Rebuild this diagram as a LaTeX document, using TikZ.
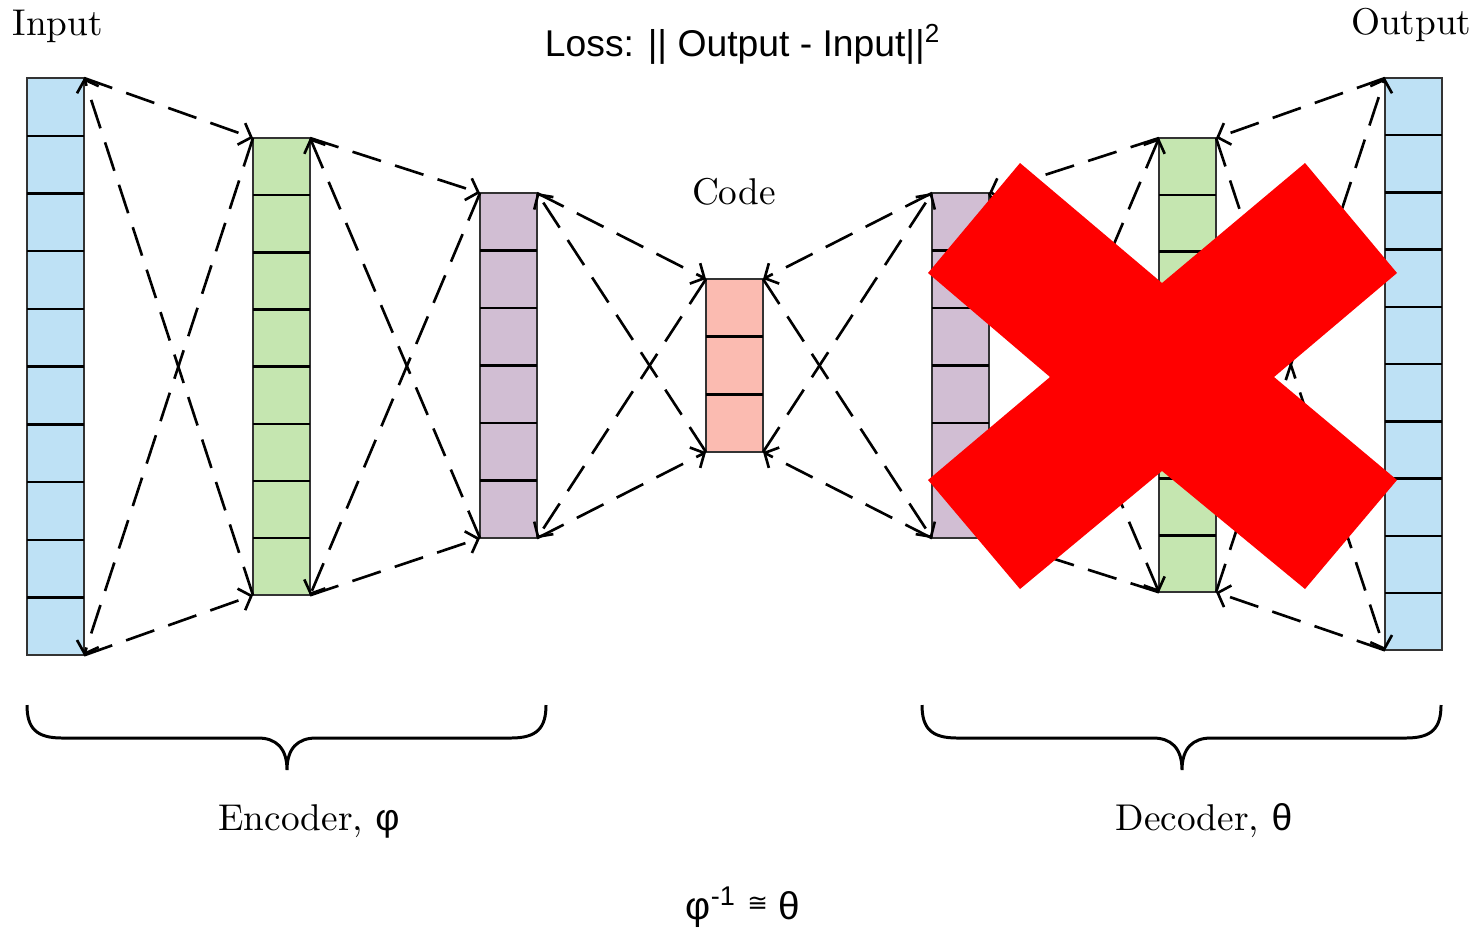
\documentclass[tikz,border=0pt]{standalone}
\usepackage{fontspec}
\newfontfamily\arial{Liberation Sans}
\newfontfamily\djv{DejaVu Sans}
\usetikzlibrary{arrows.meta,calc}

\definecolor{inblue}{RGB}{190,225,245}
\definecolor{encgreen}{RGB}{197,230,176}
\definecolor{encpurple}{RGB}{209,190,211}
\definecolor{codered}{RGB}{251,187,177}
\definecolor{xred}{RGB}{255,0,0}

% horizontal separators that split a layer node into equal cells
\newcommand\splitlayer[2]{%
  \pgfmathtruncatemacro\nlast{#2-1}%
  \foreach \k in {1,...,\nlast}{%
    \draw[cellline] ($(#1.north west)!\k/#2!(#1.south west)$) -- ($(#1.north east)!\k/#2!(#1.south east)$);}}

\begin{document}
\begin{tikzpicture}[x=0.01cm, y=-0.01cm,
  layer/.style={draw=black!80, line width=0.55pt, minimum width=0.57cm,
                inner sep=0pt, outer sep=0pt, anchor=north west},
  cellline/.style={draw=black, line width=0.7pt},
  conn/.style={line width=0.75pt, dash pattern=on 8.5pt off 4.2pt,
               -{Straight Barb[length=3pt,width=6.5pt]}},
  serif/.style={font=\fontsize{10.6}{12}\selectfont, inner sep=0pt},
  sanslbl/.style={font=\arial\fontsize{10.6}{12}\selectfont, inner sep=0pt},
  pics/curlybrace/.style={code={
    \draw[line width=0.85pt] (0,0) .. controls (0,23) and (9,33) .. (35,33)
      -- (231,33) .. controls (249,33) and (260,43) .. (260,65)
      .. controls (260,43) and (271,33) .. (289,33)
      -- (484,33) .. controls (510,33) and (519,23) .. (519,0);
  }}
]
\useasboundingbox (0,0) rectangle (1483,930);

% layers
\node[layer, fill=inblue,    minimum height=5.77cm] (in)   at (27,78)   {};
\node[layer, fill=encgreen,  minimum height=4.57cm] (e1)   at (253,138) {};
\node[layer, fill=encpurple, minimum height=3.45cm] (e2)   at (480,193) {};
\node[layer, fill=codered,   minimum height=1.73cm] (code) at (706,279) {};
\node[layer, fill=encpurple, minimum height=3.45cm] (d1)   at (932,193) {};
\node[layer, fill=encgreen,  minimum height=4.54cm] (d2)   at (1159,138) {};
\node[layer, fill=inblue,    minimum height=5.72cm] (out)  at (1385,78) {};

\splitlayer{in}{10}
\splitlayer{e1}{8}
\splitlayer{e2}{6}
\splitlayer{code}{3}
\splitlayer{d1}{6}
\splitlayer{d2}{8}
\splitlayer{out}{10}

% encoder connections
\foreach \l/\r in {in/e1, e1/e2, e2/code} {
  \draw[conn] (\l.north east) -- (\r.north west);
  \draw[conn] (\l.south east) -- (\r.south west);
  \draw[conn] (\r.south west) -- (\l.north east);
  \draw[conn] (\r.north west) -- (\l.south east);
}
% decoder connections
\foreach \l/\r in {code/d1, d1/d2, d2/out} {
  \draw[conn] (\r.north west) -- (\l.north east);
  \draw[conn] (\r.south west) -- (\l.south east);
  \draw[conn] (\l.south east) -- (\r.north west);
  \draw[conn] (\l.north east) -- (\r.south west);
}

% red cross over the decoder
\fill[xred] (1020,163) -- (1162,283) -- (1305,163) -- (1397,273) -- (1274,377)
  -- (1397,480) -- (1305,589) -- (1162,471) -- (1020,589) -- (928,480)
  -- (1050,377) -- (928,273) -- cycle;

% braces
\pic at (27,705) {curlybrace};
\pic at (922,705) {curlybrace};

% labels
\node[serif, anchor=base west] (inlbl)   at (12,35)   {Input};
\node[serif, anchor=base east] (outlbl)  at (1472,34) {Output};
\node[serif, anchor=base]      (codelbl) at (734,204) {Code};
\node[serif, anchor=base]      (enclbl)  at (309,830) {Encoder, {\arial φ}};
\node[serif, anchor=base]      (declbl)  at (1204,830) {Decoder, {\arial θ}};
\node[sanslbl, anchor=base]    (loss)    at (743,56)
  {Loss: || Output - Input||\textsuperscript{2}};
\node[anchor=base, inner sep=0pt, font=\arial\fontsize{11}{13}\selectfont] (rel) at (743,919)
  {φ\textsuperscript{-1} \raisebox{0.35ex}{\djv\fontsize{7}{8}\selectfont ≅} θ};
\end{tikzpicture}
\end{document}
